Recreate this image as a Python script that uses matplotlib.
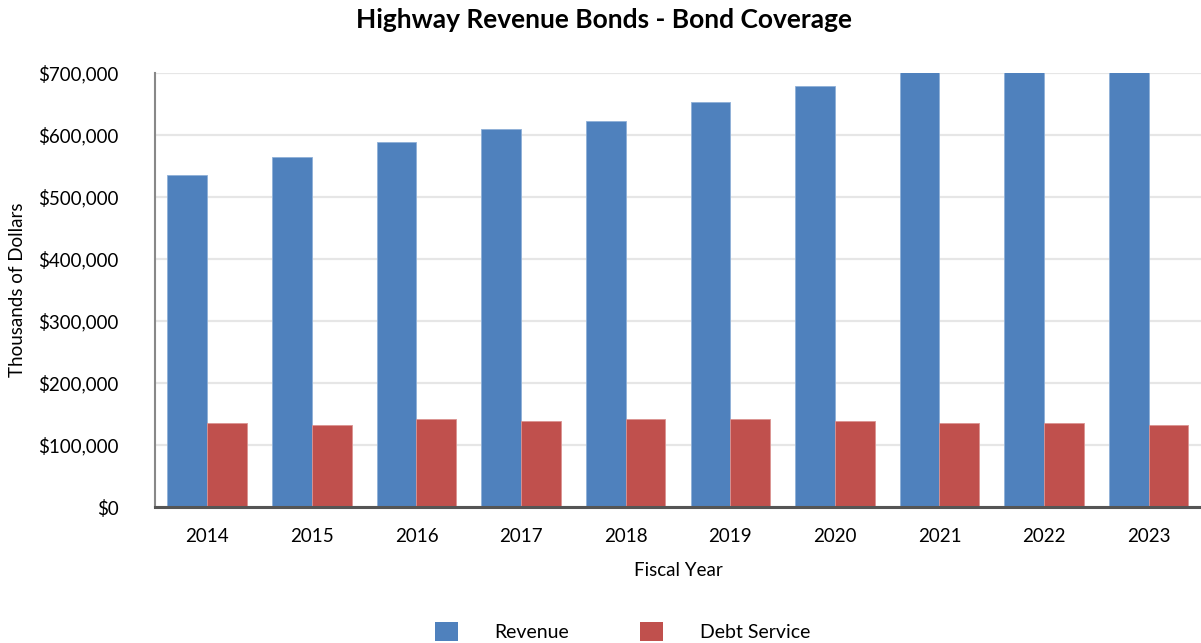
import matplotlib.pyplot as plt
import numpy as np
from matplotlib.patches import Patch
from matplotlib.ticker import FuncFormatter

plt.rcParams['font.family'] = ['Lato', 'DejaVu Sans']

years = ['2014', '2015', '2016', '2017', '2018', '2019', '2020', '2021', '2022', '2023']
# thousands of dollars
revenue = [536000, 565000, 588000, 610000, 623000, 654000, 679000, 712000, 726000, 740000]
debt_service = [135700, 132500, 142000, 139000, 142000, 142000, 139000, 135700, 135700, 132500]

blue = '#4F81BD'
red = '#C0504D'

fig = plt.figure(figsize=(12.01, 6.43), dpi=100)
ax = fig.add_axes([0.129, 0.2115, 0.871, 0.675])

x = np.arange(len(years))
w = 0.38
ax.bar(x - w / 2, revenue, w, color=blue, edgecolor='#8FB0D8', linewidth=0.6, zorder=3)
ax.bar(x + w / 2, debt_service, w, color=red, edgecolor='#DB9391', linewidth=0.6, zorder=3)

ax.set_xlim(-0.5, len(years) - 0.5)
ax.set_ylim(0, 700000)
ax.set_yticks(np.arange(0, 700001, 100000))
ax.yaxis.set_major_formatter(FuncFormatter(lambda v, p: f'${v:,.0f}'))
ax.set_xticks(x)
ax.set_xticklabels(years)
ax.tick_params(axis='both', length=0, labelsize=13.5, colors='black')
ax.tick_params(axis='x', pad=15)
ax.tick_params(axis='y', pad=26)

ax.grid(axis='y', color='#E6E6E6', linewidth=1.6, zorder=0)
for s in ['top', 'right']:
    ax.spines[s].set_visible(False)
ax.spines['left'].set_color('#888888')
ax.spines['left'].set_linewidth(1.5)
ax.spines['bottom'].set_color('#555555')
ax.spines['bottom'].set_linewidth(2.2)
ax.spines['bottom'].set_zorder(4)

ax.set_xlabel('Fiscal Year', fontsize=13.5, labelpad=12)
ax.set_ylabel('Thousands of Dollars', fontsize=13.5)
ax.yaxis.set_label_coords(-0.123, 0.5)

fig.suptitle('Highway Revenue Bonds - Bond Coverage', fontsize=19, fontweight='bold',
             x=0.503, y=0.988)

handles = [Patch(facecolor=blue), Patch(facecolor=red)]
fig.legend(handles, ['Revenue', 'Debt Service'], loc='center', bbox_to_anchor=(0.5185, 0.018),
           ncol=2, frameon=False, fontsize=14, handlelength=1.15, handleheight=1.15,
           handletextpad=1.9, columnspacing=3.65)

fig.savefig('out.png', dpi=100)
